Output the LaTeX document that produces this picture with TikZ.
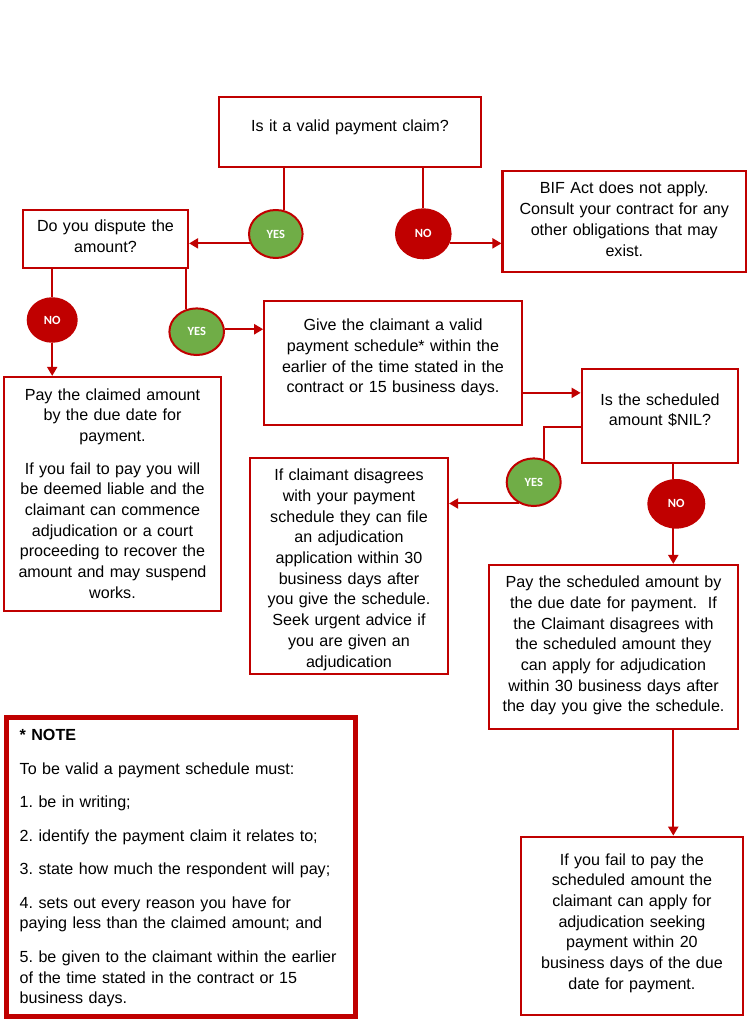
\documentclass[tikz,border=0pt]{standalone}
\usepackage{fontspec}
\setmainfont{Liberation Sans}
\newfontfamily\circlefont{Carlito}
\usetikzlibrary{shapes.geometric}
\usetikzlibrary{arrows.meta}
\definecolor{bifred}{HTML}{C00000}
\definecolor{bifgreen}{HTML}{70AD47}
\tikzset{
  box/.style n args={3}{draw=bifred, line width=2.2pt, inner sep=0pt, align=center,
    font=\fontsize{16.1}{20.7}\selectfont\frenchspacing,
    minimum width=#1pt, minimum height=#2pt, text width=#1pt-8pt,
    text height=#3pt, text depth=#2pt-#3pt},
  answer/.style={ellipse, draw=bifred, line width=2pt, inner sep=0pt, text=white,
    font=\circlefont\bfseries\fontsize{12.5}{14}\selectfont},
  yes/.style={answer, fill=bifgreen},
  no/.style={answer, fill=bifred},
  conn/.style={draw=bifred, line width=2pt},
}

\begin{document}
\begin{tikzpicture}[x=1pt, y=-1pt, >={Triangle[length=9pt,width=10pt]}]
       \useasboundingbox (0,0) rectangle (750,1024);

       % questions and answers
       \node[box={262}{70}{35}] (valid) at (350,132) {Is it a valid payment claim?};
       \node[box={243.5}{101}{23.3}] (bif) at (624.3,221.2) {BIF Act does not apply.\\ Consult your contract for any\\ other obligations that may\\ exist.};
       \node[box={165}{58}{22}] (dispute) at (105.5,239) {Do you dispute the\\ amount?};
       \node[box={257.4}{124.3}{30}] (give) at (393,362.9) {Give the claimant a valid\\ payment schedule* within the\\ earlier of the time stated in the\\ contract or 15 business days.};
       \node[box={156.6}{94.3}{36}] (nil) at (660,416.2) {Is the scheduled\\ amount \$NIL?};
       \node[box={217}{234}{23}] (claimed) at (112.5,494) {Pay the claimed amount\\ by the due date for\\ payment.\\[12pt] If you fail to pay you will\\ be deemed liable and the\\ claimant can commence\\ adjudication or a court\\ proceeding to recover the\\ amount and may suspend\\ works.};
       \node[box={198}{215.7}{22.4}] (claimant) at (349,566.2) {If claimant disagrees\\ with your payment\\ schedule they can file\\ an adjudication\\ application within 30\\ business days after\\ you give the schedule.\\ Seek urgent advice if\\ you are given an\\ adjudication};
       \node[box={248.4}{164}{22.7}] (paysched) at (613.5,647) {Pay the scheduled amount by\\ the due date for payment.\ \ If\\ the Claimant disagrees with\\ the scheduled amount they\\ can apply for adjudication\\ within 30 business days after\\ the day you give the schedule.};
       \node[box={221.7}{178.3}{28.3}] (fail) at (631.9,925.9) {If you fail to pay the\\ scheduled amount the\\ claimant can apply for\\ adjudication seeking\\ payment within 20\\ business days of the due\\ date for payment.};

       % note
       \node[box={349.5}{299}{23.2}, line width=5pt, align=left, text width=322pt] (note) at (180.75,867) {\textbf{* NOTE}\\[12.8pt]
         To be valid a payment schedule must:\\[12.8pt]
         1. be in writing;\\[12.8pt]
         2. identify the payment claim it relates to;\\[12.8pt]
         3. state how much the respondent will pay;\\[12.8pt]
         4. sets out every reason you have for\\ paying less than the claimed amount; and\\[12.8pt]
         \mbox{5. be given to the claimant within the earlier}\\ of the time stated in the contract or 15\\ business days.};

       \node[yes, minimum width=53.6pt, minimum height=48pt] (yesa) at (275.8,234) {YES};
       \node[no, minimum width=54.6pt, minimum height=49pt] (noa) at (423.3,233.8) {NO};
       \node[no, minimum width=49pt, minimum height=43.5pt] (nob) at (52.2,320) {NO};
       \node[yes, minimum width=54.6pt, minimum height=46.6pt] (yesb) at (196.7,331.7) {YES};
       \node[yes, minimum width=54pt, minimum height=47.6pt] (yesc) at (533.7,482.2) {YES};
       \node[no, minimum width=56pt, minimum height=47.6pt] (noc) at (676.3,503.8) {NO};

       \draw[conn] (yesa.70 |- valid.south) -- (yesa.70);
       \draw[conn, ->] (yesa.200) -- (yesa.200 -| dispute.east);
       \draw[conn] (noa.north |- valid.south) -- (noa.north);
       \draw[conn, ->] (noa.-20) -- (noa.-20 -| bif.west);
       \draw[conn] (nob.north |- dispute.south) -- (nob.north);
       \draw[conn, ->] (nob.south) -- (nob.south |- claimed.north);
       \draw[conn] (yesb.115 |- dispute.south) -- (yesb.115);
       \draw[conn, ->] (yesb.5) -- (yesb.5 -| give.west);
       \draw[conn, ->] (give.-13) -- (give.-13 -| nil.west);
       \draw[conn] (nil.188) -| (yesc.65);
       \draw[conn, ->] (yesc.236) -- (yesc.236 -| claimant.east);
       \draw[conn] (noc.97 |- nil.south) -- (noc.97);
       \draw[conn, ->] (noc.263) -- (noc.263 |- paysched.north);
       \draw[conn, ->] (paysched.south -| noc.263) -- (fail.north -| noc.263);
    \end{tikzpicture}
\end{document}
